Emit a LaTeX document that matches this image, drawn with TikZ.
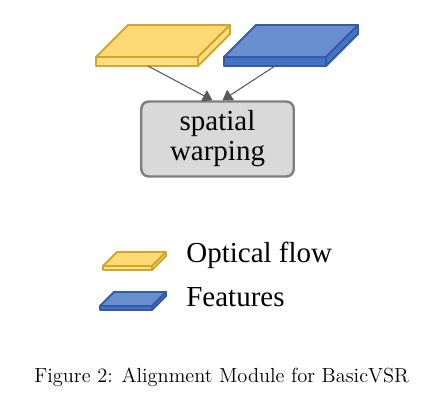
\documentclass[tikz,border=0pt]{standalone}
\usepackage{fontspec}
\usepackage{tikz}
\usetikzlibrary{arrows.meta}
\newfontfamily\timesfont{Liberation Serif}

\definecolor{flowtop}{RGB}{255,217,115}
\definecolor{flowside}{RGB}{255,222,130}
\definecolor{flowedge}{RGB}{206,168,44}
\definecolor{feattop}{RGB}{104,142,208}
\definecolor{featside}{RGB}{68,114,196}
\definecolor{featedge}{RGB}{52,92,165}
\definecolor{warpfill}{RGB}{217,217,217}
\definecolor{warpedge}{RGB}{127,127,127}
\definecolor{arrowgray}{RGB}{89,89,89}

\begin{document}
\begin{tikzpicture}[x=0.02cm,y=-0.02cm,
    warpbox/.style={rectangle,draw=warpedge,fill=warpfill,line width=1.4pt,
      rounded corners=0.15cm,minimum width=3.05cm,minimum height=1.5cm,
      align=center,font=\timesfont\fontsize{16.5}{17}\selectfont},
    legendtext/.style={anchor=base west,inner sep=0pt,font=\timesfont\fontsize{16.5}{17}\selectfont},
    flowarrow/.style={draw=arrowgray,line width=0.6pt,-{Triangle[length=5.5pt,width=7pt]}}]

    \useasboundingbox (0,0) rectangle (441,402);

    % plates: x/y of front top-left, width, depth, thickness, colour
    \foreach \x/\y/\w/\d/\t/\c in {96/57/102/32/9/flow, 224/57/102/32/9/feat,
        103/266/49/14/4/flow, 100/306/52/14/4/feat}{
      \filldraw[fill=\c top,draw=\c edge,line width=1.1pt,line join=round]
        (\x,\y) -- (\x+\w,\y) -- (\x+\w+\d,\y-\d) -- (\x+\d,\y-\d) -- cycle;
      \filldraw[fill=\c side,draw=\c edge,line width=1.1pt,line join=round]
        (\x,\y) rectangle (\x+\w,\y+\t);
      \filldraw[fill=\c side,draw=\c edge,line width=1.1pt,line join=round]
        (\x+\w,\y) -- (\x+\w+\d,\y-\d) -- (\x+\w+\d,\y-\d+\t) -- (\x+\w,\y+\t) -- cycle;
    }
    \coordinate (flowout) at (148,66);
    \coordinate (featout) at (275,66);

    \node[warpbox] (warp) at (217.5,139) {spatial\\warping};

    \draw[flowarrow] (flowout) -- ([xshift=-0.1cm]warp.north);
    \draw[flowarrow] (featout) -- ([xshift=0.1cm]warp.north);

    % legend
    \node[legendtext] (flowlabel) at (186,263) {Optical flow};
    \node[legendtext] (featlabel) at (186,307) {Features};

    \node[anchor=base west,inner sep=0pt,font=\fontsize{11.6}{13}\selectfont] (caption) at (34,383)
      {Figure 2: Alignment Module for BasicVSR};
\end{tikzpicture}
\end{document}
